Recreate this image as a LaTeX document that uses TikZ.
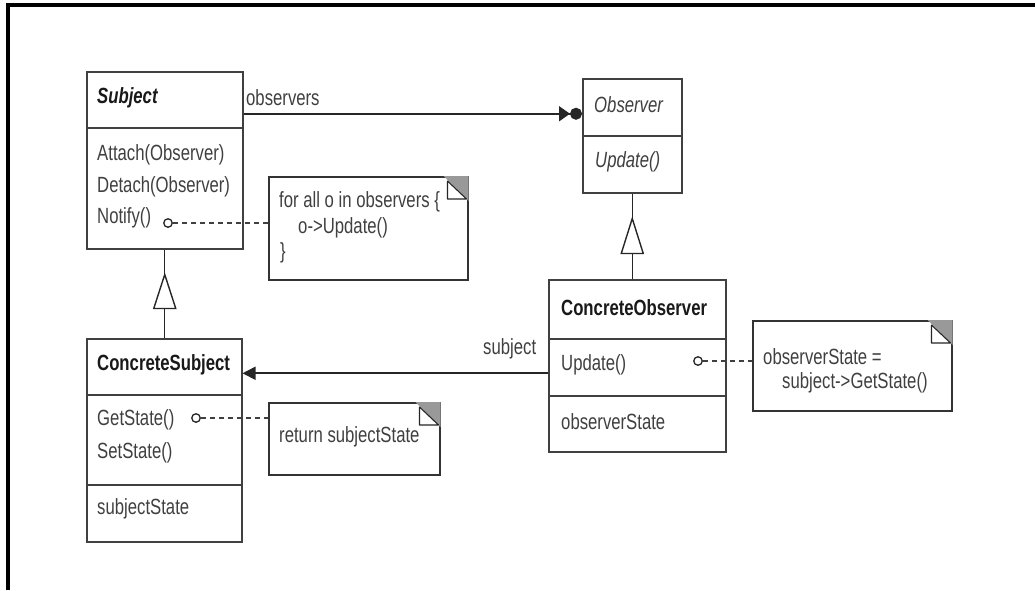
\documentclass[tikz,border=0pt]{standalone}
\usepackage{fontspec}
\setmainfont{Liberation Sans}[FakeStretch=0.76]
\usetikzlibrary{arrows.meta,calc}
\newcommand\notefold[1]{%
  \fill[black!40] ([xshift=-25pt]#1.north east) -- (#1.north east) -- ([yshift=-25pt]#1.north east) -- cycle;
  \draw[black!85, line width=1.1pt, fill=white, line join=round]
    ([shift={(-21pt,-5pt)}]#1.north east) -- ([shift={(-21pt,-23pt)}]#1.north east) -- ([shift={(-2pt,-23pt)}]#1.north east) -- cycle;
}
\begin{document}
\begin{tikzpicture}[x=1pt,y=-1pt,
  box/.style={draw=black!75, line width=1.5pt, inner sep=0pt, anchor=north west},
  notebox/.style={draw=black!80, line width=1.5pt, inner sep=0pt, anchor=north west, fill=white},
  txt/.style={anchor=west, inner sep=0pt, font=\fontsize{22}{26}\selectfont, text=black!75},
  btxt/.style={txt, font=\fontsize{22}{26}\selectfont\bfseries, text=black!90},
  itxt/.style={txt, font=\fontsize{22}{26}\selectfont\itshape},
  bitxt/.style={txt, font=\fontsize{22}{26}\selectfont\bfseries\itshape, text=black!90},
  opcirc/.style={circle, draw=black!85, line width=1.3pt, fill=white, inner sep=0pt, minimum size=8.5pt},
  link/.style={draw=black!75, line width=1.3pt, dash pattern=on 5pt off 4pt},
  assoc/.style={draw=black!85, line width=1.6pt},
  gen/.style={draw=black!85, line width=1.4pt},
  gentri/.style={draw=black!85, line width=1.4pt, fill=white, line join=miter}
]
\useasboundingbox (0,0) rectangle (1035,590);
\fill[white] (0,0) rectangle (1035,590);
% frame
\fill[black] (6,3) rectangle (1035,7);
\fill[black] (6,3) rectangle (10,590);

% Subject
\node[box, minimum width=156pt, minimum height=56pt] (subjH) at (86,71) {};
\node[box, minimum width=156pt, minimum height=121pt] (subjM) at (86,127) {};
\node[bitxt] (tSubj) at (97,98) {Subject};
\node[txt] (tAtt) at (97,155) {Attach(Observer)};
\node[txt] (tDet) at (97,187) {Detach(Observer)};
\node[txt] (tNot) at (97,218) {Notify()};

% Observer
\node[box, minimum width=99pt, minimum height=57pt] (obsH) at (582,78) {};
\node[box, minimum width=99pt, minimum height=57pt] (obsM) at (582,135) {};
\node[itxt] (tObs) at (594,105) {Observer};
\node[itxt] (tUpd) at (595,162) {Update()};

% ConcreteSubject
\node[box, minimum width=155pt, minimum height=56pt] (csH) at (86,338) {};
\node[box, minimum width=155pt, minimum height=90pt] (csM) at (86,394) {};
\node[box, minimum width=155pt, minimum height=57pt] (csA) at (86,484) {};
\node[btxt] (tCS) at (97,365) {ConcreteSubject};
\node[txt] (tGet) at (97,420) {GetState()};
\node[txt] (tSet) at (97,453) {SetState()};
\node[txt] (tSS) at (97,509) {subjectState};

% ConcreteObserver
\node[box, minimum width=177pt, minimum height=59pt] (coH) at (548,279) {};
\node[box, minimum width=177pt, minimum height=57pt] (coM) at (548,338) {};
\node[box, minimum width=177pt, minimum height=56pt] (coA) at (548,395) {};
\node[btxt] (tCO) at (561,308) {ConcreteObserver};
\node[txt] (tUpd2) at (561,365) {Update()};
\node[txt] (tOS) at (561,422) {observerState};

% Notes
\node[notebox, minimum width=199pt, minimum height=103pt] (n1) at (268,176) {};
\notefold{n1}
\node[txt] (tn1a) at (279,202) {for all o in observers \{};
\node[txt] (tn1b) at (298,228) {o->Update()};
\node[txt] (tn1c) at (280,253) {\}};

\node[notebox, minimum width=171pt, minimum height=72pt] (n2) at (268,402) {};
\notefold{n2}
\node[txt] (tn2a) at (279,437) {return subjectState};

\node[notebox, minimum width=199pt, minimum height=90pt] (n3) at (752,320) {};
\notefold{n3}
\node[txt] (tn3a) at (763,357) {observerState =};
\node[txt] (tn3b) at (782,383) {subject->GetState()};

% note links
\node[opcirc] (c1) at (168,223) {};
\node[opcirc] (c2) at (196,418) {};
\node[opcirc] (c3) at (698,361) {};
\draw[link] (c1.east) -- (c1 -| n1.west);
\draw[link] (c2.east) -- (c2 -| n2.west);
\draw[link] (c3.east) -- (c3 -| n3.west);

% observers association
\coordinate (oa) at ([yshift=-14pt]subjH.east);
\draw[assoc, -{Triangle[length=11pt,width=15pt,sep=0pt] Circle[length=12pt]}] (oa) -- (oa -| obsH.west);
\node[txt] (tObsL) at (246,98) {observers};

% subject association
\coordinate (sa) at ([yshift=-6pt]coM.west);
\draw[assoc, -{Triangle[length=13pt,width=13pt]}] (sa) -- (sa -| csH.east);
\node[txt] (tSubL) at (483,349) {subject};

% generalizations
\draw[gen] (subjM.south) -- (subjM.south |- csH.north);
\draw[gentri] ([yshift=-25pt]subjM.south) -- ++(-11,34) -- ++(22,0) -- cycle;
\draw[gen] (obsM.south) -- (obsM.south |- coH.north);
\draw[gentri] ([yshift=-25pt]obsM.south) -- ++(-11,35) -- ++(22,0) -- cycle;
\end{tikzpicture}
\end{document}
